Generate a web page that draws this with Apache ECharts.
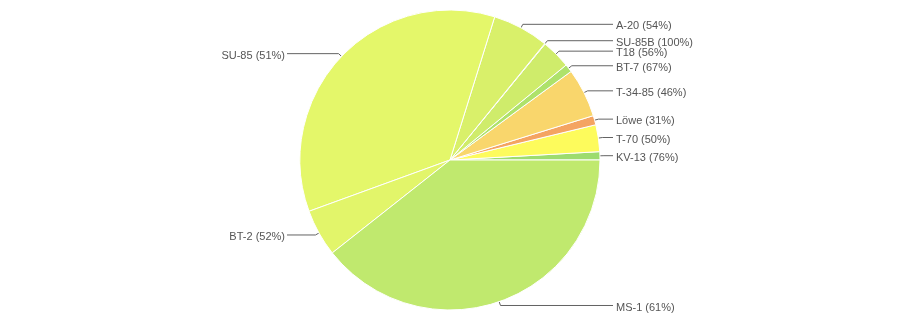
<!DOCTYPE html>
<html>
<head>
<meta charset="utf-8">
<script src="https://cdn.jsdelivr.net/npm/echarts@6/dist/echarts.min.js"></script>
<style>
html,body{margin:0;padding:0;background:#fff;}
#chart{width:900px;height:320px;}
</style>
</head>
<body>
<div id="chart"></div>
<script>
const categories = ['KV-13', 'T-70', 'Löwe', 'T-34-85', 'BT-7', 'T18', 'SU-85B', 'A-20', 'SU-85', 'BT-2', 'MS-1'];
const sliceValues = [3.2, 10.4, 3.6, 19.0, 3.1, 11.4, 0.2, 21.8, 127.4, 18.3, 141.8];
const labelPercents = [76, 50, 31, 46, 67, 56, 100, 54, 51, 52, 61];
const sliceColors = ['#9ddc6e', '#fdfb5c', '#f4a462', '#f9d66c', '#aee26b', '#cfec6b', '#d2ee6b', '#d9f06a', '#e4f76a', '#e2f56a', '#c0e96e'];

const W = 900, H = 320;
const CX = 450, CY = 160, R = 150;

const chart = echarts.init(document.getElementById('chart'), null, {renderer: 'canvas'});

const data = categories.map((c, i) => ({
  name: c,
  value: sliceValues[i],
  pct: labelPercents[i],
  itemStyle: {color: sliceColors[i]}
}));

chart.setOption({
  animation: false,
  backgroundColor: '#ffffff',
  series: [{
    type: 'pie',
    center: [CX, CY],
    radius: R,
    startAngle: 0,
    clockwise: false,
    avoidLabelOverlap: false,
    minShowLabelAngle: 0,
    data: data,
    itemStyle: {borderColor: '#ffffff', borderWidth: 1},
    label: {
      show: true,
      position: 'outside',
      fontFamily: 'Liberation Sans, Arial, sans-serif',
      fontSize: 11,
      color: '#555555',
      formatter: function (p) { return p.name + ' (' + p.data.pct + '%)'; }
    },
    labelLine: {
      show: true,
      length: 4,
      length2: 10,
      lineStyle: {color: '#636363', width: 1}
    },
    labelLayout: function (params) {
      const p = params.labelLinePoints;
      if (!p) return {};
      const ax = p[0][0], ay = p[0][1];
      const dx = ax - CX, dy = ay - CY;
      const len = Math.sqrt(dx * dx + dy * dy) || 1;
      const bx = ax + dx / len * 4, by = ay + dy / len * 4;
      const isLeft = ax < CX;
      const endX = isLeft ? CX - R - 13 : CX + R + 13;
      return {
        x: isLeft ? endX - 2 : endX + 3,
        y: by + 2,
        align: isLeft ? 'right' : 'left',
        verticalAlign: 'middle',
        labelLinePoints: [[ax, ay], [bx, by], [endX, by]]
      };
    }
  }]
});
</script>
</body>
</html>
